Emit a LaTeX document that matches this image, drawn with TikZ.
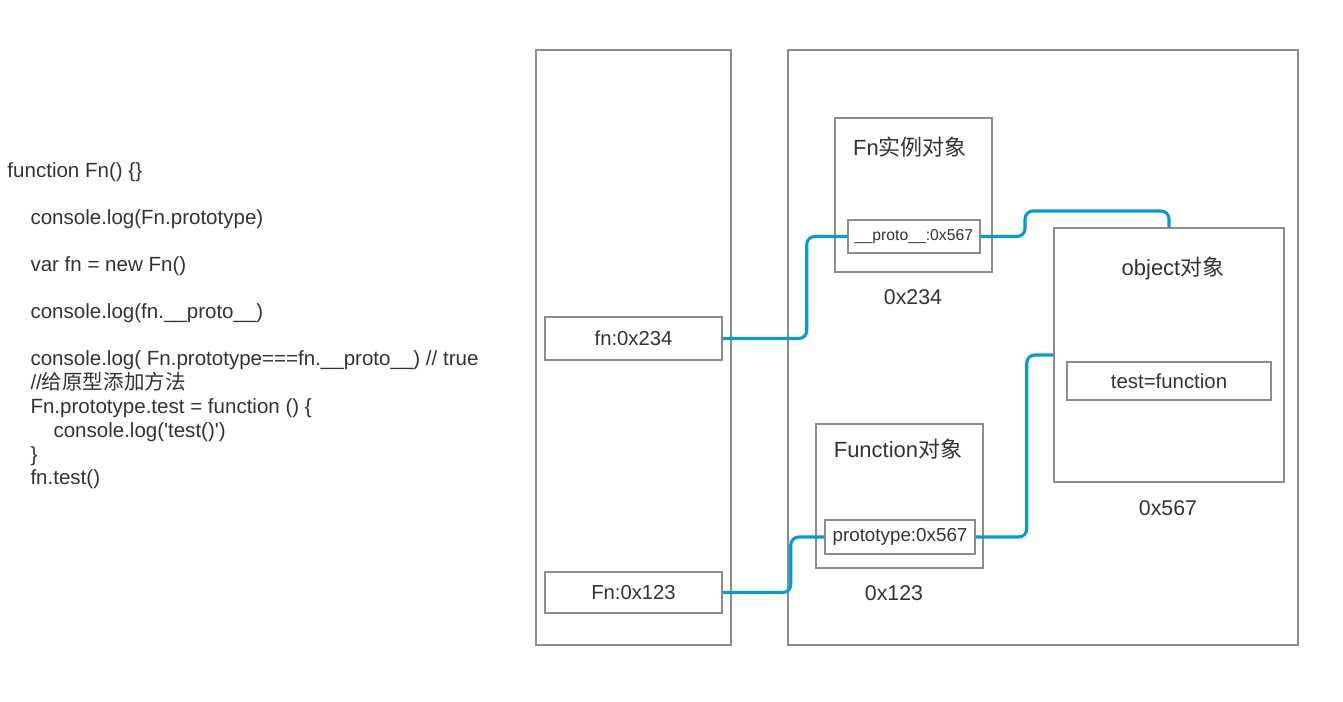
\documentclass[tikz,border=0pt]{standalone}
\usepackage{fontspec}
\setmainfont{Liberation Sans}
\newfontfamily\cjk{Noto Sans CJK SC}
\definecolor{boxgray}{RGB}{140,140,140}
\definecolor{inkgray}{RGB}{51,51,51}
\definecolor{wireblue}{RGB}{5,156,210}
\tikzset{every picture/.style={line width=0.75pt}}
\tikzset{
  memcell/.style={draw=boxgray,line width=1.1pt,inner sep=0pt,text=inkgray},
  codeline/.style={anchor=base west,inner sep=0pt,text=inkgray,font=\fontsize{15.4}{18}\selectfont},
  boxtitle/.style={anchor=base,inner sep=0pt,text=inkgray,font=\fontsize{16.5}{20}\selectfont},
  addrlabel/.style={anchor=base,inner sep=0pt,text=inkgray,font=\fontsize{16}{19}\selectfont},
  wire/.style={draw=wireblue,line width=2.3pt,rounded corners=6pt}
}

\begin{document}
\begin{tikzpicture}[x=0.75pt,y=0.75pt,yscale=-1,xscale=1]
\useasboundingbox (0,0) rectangle (1343,701);

% Code lines
\node[codeline] (code1) at (7,177) {function Fn() \{\}};
\node[codeline] (code2) at (30,224) {console.log(Fn.prototype)};
\node[codeline] (code3) at (30,271) {var fn = new Fn()};
\node[codeline] (code4) at (30,318) {console.log(fn.\_\_proto\_\_)};
\node[codeline] (code5) at (30,365) {console.log( Fn.prototype===fn.\_\_proto\_\_) // true};
\node[codeline] (code6) at (30,389) {//{\cjk 给原型添加方法}};
\node[codeline] (code7) at (30,413) {Fn.prototype.test = function () \{};
\node[codeline] (code8) at (53,437) {console.log(\textquotesingle test()\textquotesingle)};
\node[codeline] (code9) at (30,461) {\}};
\node[codeline] (code10) at (30,484) {fn.test()};

% Stack and heap
\node[memcell,minimum width=146.25pt,minimum height=446.25pt] (stack) at (633.5,347.5) {};
\node[memcell,minimum width=382.5pt,minimum height=446.25pt] (heap) at (1043,347.5) {};

% Stack variables
\node[memcell,minimum width=132.75pt,minimum height=32.25pt,font=\fontsize{15.2}{18}\selectfont] (fnvar) at (633.5,338.5) {fn:0x234};
\node[memcell,minimum width=132.75pt,minimum height=30.75pt,font=\fontsize{15.2}{18}\selectfont] (Fnvar) at (633.5,592.5) {Fn:0x123};

% Fn instance
\node[memcell,minimum width=117.75pt,minimum height=115.5pt] (inst) at (913.5,195) {};
\node[boxtitle] (insttitle) at (910,155) {Fn{\cjk 实例对象}};
\node[memcell,minimum width=99pt,minimum height=24.75pt,font=\fontsize{11.8}{14}\selectfont] (proto) at (914,236.5) {\_\_proto\_\_:0x567};
\node[addrlabel] (instaddr) at (913,304) {0x234};

% Prototype object
\node[memcell,minimum width=172.5pt,minimum height=190.5pt] (obj) at (1169,355) {};
\node[boxtitle] (objtitle) at (1173,275) {object{\cjk 对象}};
\node[memcell,minimum width=153pt,minimum height=28.5pt,font=\fontsize{15.3}{18}\selectfont] (testfn) at (1169,381) {test=function};
\node[addrlabel] (objaddr) at (1168,515) {0x567};

% Function object
\node[memcell,minimum width=125.25pt,minimum height=108pt] (func) at (899.5,496) {};
\node[boxtitle] (functitle) at (898,457) {Function{\cjk 对象}};
\node[memcell,minimum width=112.5pt,minimum height=25.5pt,font=\fontsize{14.1}{17}\selectfont] (ptype) at (900,537) {prototype:0x567};
\node[addrlabel] (funcaddr) at (894,600) {0x123};

% References
\coordinate (protobend) at (1025,211);
\draw[wire] (fnvar.east) -- ++(84,0) |- (proto.west);
\draw[wire] (proto.east) -| (protobend) -| (obj.north);
\draw[wire] (Fnvar.east) -- ++(68,0) |- (ptype.west);
\draw[wire] (ptype.east) -- ++(51,0) |- (obj.west);
\end{tikzpicture}
\end{document}
